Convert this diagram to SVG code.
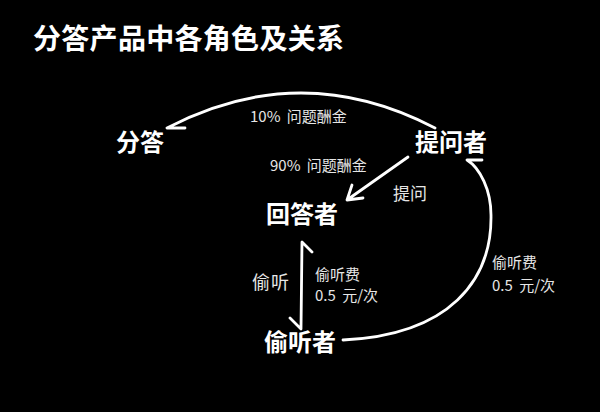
<svg xmlns="http://www.w3.org/2000/svg" width="600" height="412" viewBox="0 0 600 412">
<style>
.title{font-family:"Noto Sans CJK SC","Noto Sans",sans-serif;font-weight:700;font-size:28px;letter-spacing:0.3px;fill:#fff}
.node{font-family:"Noto Sans CJK SC","Noto Sans",sans-serif;font-weight:700;font-size:24px;fill:#fff}
.lbl{font-family:"Noto Sans CJK SC","Noto Sans",sans-serif;font-weight:400;font-size:15px;word-spacing:3px;fill:#e6e6e6}
.lbl2{font-family:"Noto Sans CJK SC","Noto Sans",sans-serif;font-weight:400;font-size:18px;fill:#e6e6e6}
.conn{fill:none;stroke:#fff;stroke-width:2.8;stroke-linecap:round;stroke-linejoin:round}
</style>
<rect x="0" y="0" width="600" height="412" fill="#000"/>
<text class="title" x="33" y="49">分答产品中各角色及关系</text>
<g id="connectors">
<path class="conn" d="M435,128 Q301,58 167,128 L185,128"/>
<path class="conn" d="M408,157 L347,200 M352,185 L347,200 L363,198"/>
<path class="conn" d="M343,340 C450,335 492,280 491,215 C491,190 480,168 467,160 L482,160"/>
<path class="conn" d="M312,252 L302,242 L301,329 L290,318"/>
</g>
<g id="node-fenda"><text class="node" x="116" y="151">分答</text></g>
<g id="node-tiwenzhe"><text class="node" x="415" y="151">提问者</text></g>
<g id="node-huidazhe"><text class="node" x="266" y="223">回答者</text></g>
<g id="node-toutingzhe"><text class="node" x="264" y="351">偷听者</text></g>
<g id="labels">
<text class="lbl" x="250" y="122">10% 问题酬金</text>
<text class="lbl" x="270" y="171">90% 问题酬金</text>
<text class="lbl2" x="393" y="200" style="font-size:17px">提问</text>
<text class="lbl2" x="252" y="289" style="letter-spacing:1px">偷听</text>
<text class="lbl" x="315" y="280">偷听费</text>
<text class="lbl" x="315" y="301">0.5 元/次</text>
<text class="lbl" x="492" y="268">偷听费</text>
<text class="lbl" x="492" y="291">0.5 元/次</text>
</g>
</svg>
